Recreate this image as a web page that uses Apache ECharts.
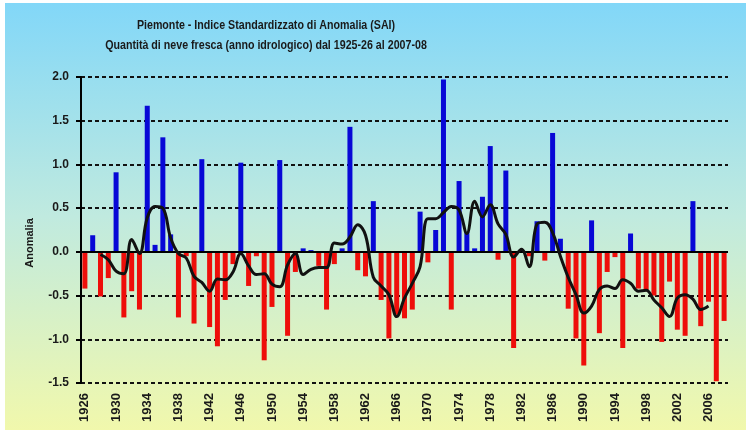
<!DOCTYPE html>
<html>
<head>
<meta charset="utf-8">
<script src="https://cdn.jsdelivr.net/npm/echarts@6/dist/echarts.min.js"></script>
<style>html,body{margin:0;padding:0;background:#fff}#c{width:746px;height:430px}</style>
</head>
<body>
<div id="c"></div>
<script>
const years = ['1926','1927','1928','1929','1930','1931','1932','1933','1934','1935','1936','1937','1938','1939','1940','1941','1942','1943','1944','1945','1946','1947','1948','1949','1950','1951','1952','1953','1954','1955','1956','1957','1958','1959','1960','1961','1962','1963','1964','1965','1966','1967','1968','1969','1970','1971','1972','1973','1974','1975','1976','1977','1978','1979','1980','1981','1982','1983','1984','1985','1986','1987','1988','1989','1990','1991','1992','1993','1994','1995','1996','1997','1998','1999','2000','2001','2002','2003','2004','2005','2006','2007','2008'];
const sai = [-0.42,0.19,-0.51,-0.30,0.91,-0.75,-0.45,-0.66,1.67,0.08,1.31,0.20,-0.75,-0.05,-0.82,1.06,-0.86,-1.08,-0.55,-0.14,1.02,-0.39,-0.05,-1.24,-0.63,1.05,-0.96,-0.23,0.04,0.02,-0.16,-0.66,-0.14,0.04,1.43,-0.21,-0.28,0.58,-0.55,-0.99,-0.72,-0.76,-0.66,0.46,-0.12,0.25,1.97,-0.66,0.81,0.23,0.04,0.63,1.21,-0.09,0.93,-1.10,0.03,-0.05,0.35,-0.10,1.36,0.15,-0.65,-0.99,-1.30,0.36,-0.93,-0.23,-0.06,-1.10,0.21,-0.42,-0.45,-0.50,-1.03,-0.34,-0.89,-0.96,0.58,-0.85,-0.57,-1.48,-0.79];
const trend = [null,null,-0.03,-0.09,-0.22,-0.25,0.14,-0.02,0.39,0.52,0.50,0.16,-0.02,-0.07,-0.28,-0.35,-0.45,-0.31,-0.32,-0.23,-0.02,-0.16,-0.26,-0.25,-0.37,-0.40,-0.15,-0.02,-0.26,-0.20,-0.18,-0.18,0.10,0.09,0.17,0.31,0.19,-0.29,-0.39,-0.49,-0.74,-0.53,-0.36,-0.17,0.38,0.38,0.45,0.52,0.48,0.21,0.58,0.40,0.54,0.32,0.20,-0.06,0.03,-0.17,0.32,0.34,0.22,-0.05,-0.29,-0.49,-0.70,-0.62,-0.43,-0.39,-0.42,-0.32,-0.36,-0.45,-0.44,-0.55,-0.64,-0.74,-0.53,-0.49,-0.54,-0.66,-0.62,null,null];
const yTicks = {min:-1.5, max:2.0, step:0.5};
const titleLines = ['Piemonte - Indice Standardizzato di Anomalia (SAI)', 'Quantità di neve fresca (anno idrologico) dal 1925-26 al 2007-08'];
const yName = 'Anomalia';

const chart = echarts.init(document.getElementById('c'), null, {renderer:'canvas'});
const sans = '"Liberation Sans", Arial, sans-serif';
chart.setOption({
  animation: false,
  backgroundColor: '#ffffff',
  graphic: [
    {
      type: 'rect', left: 5, top: 3, z: -100, silent: true,
      shape: {width: 741, height: 427},
      style: {fill: new echarts.graphic.LinearGradient(0,0,0,1,[
        {offset:0, color:'#82d7f8'},
        {offset:0.5, color:'#c0eadf'},
        {offset:1, color:'#f1f8ac'}
      ])}
    },
    {type: 'text', x: 266, y: 25, scaleX: 0.82, z: 10, silent: true,
     style: {text: titleLines[0], font: 'bold 13px ' + sans, fill: '#1a1a1a', align: 'center', verticalAlign: 'middle'}},
    {type: 'text', x: 266, y: 45, scaleX: 0.82, z: 10, silent: true,
     style: {text: titleLines[1], font: 'bold 13px ' + sans, fill: '#1a1a1a', align: 'center', verticalAlign: 'middle'}},
    {type: 'text', x: 30, y: 243, rotation: Math.PI / 2, z: 10, silent: true,
     style: {text: yName, font: 'bold 11px ' + sans, fill: '#1a1a1a', align: 'center', verticalAlign: 'middle'}}
  ],
  grid: {left: 81, right: 18, top: 77, bottom: 47, containLabel: false},
  xAxis: {
    type: 'category', data: years, boundaryGap: true,
    axisLine: {show: false}, axisTick: {show: false},
    axisLabel: {interval: 3, rotate: 90, margin: 10, fontFamily: sans, fontSize: 13, fontWeight: 'bold', color: '#1a1a1a'},
    splitLine: {show: false}
  },
  yAxis: {
    type: 'value', min: yTicks.min, max: yTicks.max, interval: yTicks.step,
    axisLine: {show: true, lineStyle: {color: '#000', width: 2}},
    axisTick: {show: true, length: 5, lineStyle: {color: '#000', width: 2}},
    axisLabel: {margin: 12, fontFamily: sans, fontSize: 12, fontWeight: 'bold', color: '#1a1a1a',
      formatter: v => v.toFixed(1)},
    splitLine: {show: true, lineStyle: {color: '#111', width: 2, type: [4, 3]}}
  },
  series: [
    {
      type: 'bar', data: sai, barWidth: 5, z: 2,
      itemStyle: {color: p => p.value >= 0 ? '#0808d6' : '#ee0e0a'},
      markLine: {silent: true, symbol: 'none', label: {show: false}, animation: false,
        lineStyle: {color: '#000', width: 2, type: 'solid'}, data: [{yAxis: 0}]}
    },
    {
      type: 'line', data: trend, smooth: 0.4, symbol: 'none', z: 5, connectNulls: false,
      lineStyle: {color: '#111', width: 3}
    }
  ]
});
</script>
</body>
</html>
